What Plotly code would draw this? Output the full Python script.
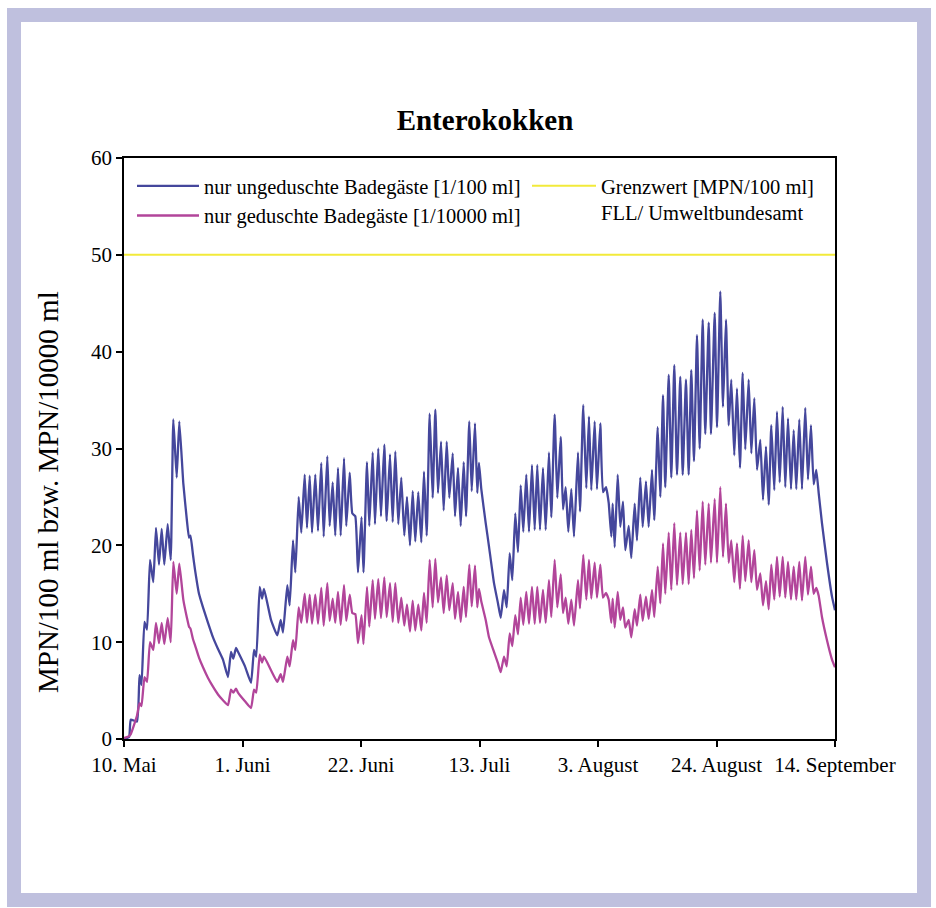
import plotly.graph_objects as go

# Day offset since 10. Mai (x), Enterokokken values
t = [0, 0.9, 1.2, 2.3, 2.75, 3.1, 3.63, 4.08, 4.61, 5.19, 5.67, 6.2, 6.68, 7.14, 7.74, 8.28, 8.74, 9.34, 9.8,
     10.51, 11.16, 11.52, 11.78, 12.23, 12.58, 13.29, 14.0, 14.89, 15.77, 16.66, 17.54, 18.43, 18.96, 19.37,
     19.85, 20.2, 21.44, 22.51, 23.04, 23.44, 24.05, 24.46, 24.81, 26.05, 27.17, 27.77, 28.18, 28.94, 29.36,
     29.95, 30.36, 30.96, 31.42, 32.02, 32.43, 32.91, 33.32, 33.9, 34.38, 34.96, 35.39, 36.03, 36.45, 36.98,
     37.44, 37.92, 38.4, 38.99, 39.39, 40.0, 40.46, 40.99, 41.47, 42.09, 42.44, 43.06, 43.47, 44.07, 44.48,
     45.06, 45.54, 46.13, 46.55, 47.14, 47.62, 48.08, 48.61, 49.14, 49.67, 50.15, 50.68, 51.16, 51.62, 52.15,
     52.69, 53.16, 53.64, 54.17, 54.7, 55.17, 55.64, 56.18, 56.65, 57.19, 57.65, 58.25, 58.66, 59.19, 59.67,
     60.2, 60.61, 61.19, 61.62, 62.2, 62.61, 62.91, 63.32, 64.1, 64.68, 65.57, 66.28, 66.76, 67.34, 67.82,
     68.35, 68.81, 69.34, 69.82, 70.3, 70.76, 71.29, 71.77, 72.3, 72.78, 73.24, 73.72, 74.25, 74.73, 75.31,
     75.72, 76.32, 76.79, 77.39, 77.8, 78.27, 78.74, 79.27, 79.75, 80.45, 80.81, 81.39, 81.93, 82.4, 82.81,
     83.41, 83.82, 84.41, 84.88, 85.42, 85.89, 86.36, 86.6, 86.96, 87.49, 87.95, 88.43, 88.84, 89.44, 89.9,
     90.5, 90.91, 91.49, 91.92, 92.5, 92.98, 93.57, 93.97, 94.58, 95.04, 95.52, 95.92, 96.53, 96.99, 97.52,
     98.0, 98.58, 99.01, 99.59, 100.07, 100.53, 101.01, 101.54, 102.02, 102.55, 103.01, 103.62, 104.02,
     104.68, 105.09, 105.67, 106.15, 106.68, 107.16, 107.62, 108.15, 108.63, 109.16, 109.64, 110.1, 110.7,
     111.17, 111.7, 112.18, 112.76, 113.24, 113.77, 114.25, 114.71, 115.24, 115.72, 116.2, 116.73, 117.19,
     117.67, 118.2, 118.68, 119.14, 119.67, 120.15, 120.73, 121.21, 121.74, 122.22, 122.68, 123.11, 123.69,
     124.58, 125.47, 126.0]

ungeduscht = [0, 0.2, 2.0, 1.8, 6.6, 5.6, 12.1, 11.3, 18.5, 16.2, 21.8, 18, 21.7, 18, 22.2, 18.5, 33, 27, 32.8,
              26.4, 22.5, 20.8, 21, 19, 17.5, 15, 13.6, 12, 10.5, 9.3, 8.2, 6.4, 9, 8.3,
              9.4, 9.0, 7.5, 5.8, 9.2, 8.5, 15.7, 14.5, 15.5, 12.3, 10.7, 12.3, 11, 15.9, 13.8,
              20.5, 17.2, 25, 21.3, 27.3, 21.8, 27.2, 21.3, 27.3, 21.5, 28.5, 20.9, 29.2, 22, 26.5,
              21, 28, 21, 29, 22, 27.5, 23.3, 23, 17.2, 22.9, 17.2, 28.6, 22, 29.6, 22.2,
              30, 23, 30.4, 22.5, 29.4, 22.4, 29.7, 22.2, 27, 21, 25, 20, 25.6, 20.4, 25.5,
              20.3, 27.6, 21, 33.6, 24.9, 34, 25.4, 30.7, 23.6, 30.7, 24.9, 29.5, 23, 28, 22,
              28.6, 23, 32.8, 25.6, 32.6, 25.4, 28.5, 25.8, 22.3, 19.9, 16.1, 14, 12.5, 15.4, 13.6,
              19.2, 16.4, 23.3, 19.3, 26.2, 21.4, 27.3, 21.4, 28.3, 21.6, 28.3, 21.6, 28, 21.6, 29.6,
              22.9, 33.5, 24.9, 31.2, 23.7, 26, 21.4, 25.8, 20.9, 29.6, 23.5, 34.5, 25.9, 33.3, 25.7,
              32.8, 25.8, 32.6, 25.5, 26, 24.4, 20.9, 24.3, 19.8, 27.3, 21.9, 24.5, 19.5, 22, 18.7,
              24.3, 20.5, 27, 21.9, 26.6, 21.9, 27.8, 22.6, 32.2, 25, 35.5, 26, 37.6, 27, 38.6,
              27.3, 37.4, 27.3, 37.1, 27.3, 38.1, 28.7, 41.7, 30, 43.3, 31.5, 43, 31.5,
              44, 32.2, 46.2, 34.3, 43.3, 32.4, 37.1, 29.3, 36.2, 28, 37.8, 29.9, 37.1,
              29.5, 35.2, 27.8, 30.9, 24.7, 30.2, 24.2, 32.4, 25.7, 33.8, 26.5, 34.3, 26,
              33.1, 25.8, 31.9, 25.8, 33, 25.8, 34.2, 26.8, 32.4, 26.3, 27.8, 25.4, 22.3,
              18.2, 14.7, 13.3]

geduscht = [0.1, 0.3, 0.5, 2.4, 3.7, 3.4, 6.4, 5.9, 10, 9.2, 12, 9.9, 12, 9.8, 12.5, 10, 18.3, 15, 18.1,
            14.4, 12.5, 11.6, 11.4, 10.3, 9.7, 8.4, 7.4, 6.3, 5.4, 4.6, 4.0, 3.5, 5.1, 4.8,
            5.2, 4.8, 3.9, 3.2, 5.1, 4.8, 8.7, 7.9, 8.5, 7.1, 5.9, 6.7, 5.9, 8.5, 7.5,
            10.2, 9.2, 13.6, 12, 15, 12, 14.9, 11.9, 14.9, 11.9, 15.6, 11.7, 16.1, 12.2, 14.5,
            12, 15.2, 11.8, 15.9, 12.2, 14.9, 13, 12.9, 9.9, 12.8, 9.8, 15.7, 11.6, 16.4, 12.4,
            16.5, 12.5, 16.7, 12.6, 16.1, 12.1, 16.1, 12, 14.6, 11.7, 13.9, 11.1, 14.3, 11.2, 13.9,
            11.2, 15.1, 12, 18.5, 13.6, 18.6, 14.1, 16.7, 13, 16.9, 13.3, 16.1, 12.4, 15.2, 12.1,
            15.7, 12.6, 18, 13.7, 17.9, 13.6, 15.5, 14.2, 12.3, 10.5, 9, 7.8, 6.9, 8.5, 7.5,
            10.9, 9.6, 12.8, 10.8, 14.6, 11.8, 15.2, 11.9, 15.7, 11.9, 15.7, 12, 15.4, 12, 16.4,
            12.6, 18.5, 13.6, 17, 13, 14.6, 11.9, 14.4, 11.7, 16.4, 13.5, 19, 14.4, 18.5, 14.5,
            18.2, 14.6, 18, 14.6, 15.1, 14.4, 12, 14.5, 11.5, 15.2, 12.3, 13.6, 11.5, 12.3, 10.5,
            13.4, 11.7, 14.9, 12.2, 14.7, 12.4, 15.4, 12.6, 17.8, 14, 20.2, 15, 21.3, 15.4, 22.3,
            15.9, 21.3, 16, 21.3, 16, 21.6, 16.6, 23.6, 17.4, 24.5, 18, 24.3, 18.2,
            24.8, 18.2, 26, 18.8, 24.3, 18.2, 20.5, 16.2, 20.2, 15.5, 21, 16.3, 20.5,
            16.2, 19.5, 15.4, 17.1, 13.8, 16.3, 13.4, 18, 14.4, 18.8, 14.7, 18.8, 14.6,
            18.3, 14.4, 17.8, 14.4, 18.3, 14.3, 18.8, 14.9, 17.8, 15, 15.6, 14.8, 12.6,
            10.2, 8.2, 7.4]

grenz_x = [0, 126]
grenzwert = [50, 50]

tick_days = [0, 21, 42, 63, 84, 105, 126]
tick_labels = ["10. Mai", "1. Juni", "22. Juni", "13. Juli", "3. August", "24. August", "14. September"]

SERIF = "Liberation Serif, Times New Roman, serif"
BLUE = "#45479c"
MAGENTA = "#b2459a"
YELLOW = "#f2ea3a"
LAVENDER = "#bfc0de"

fig = go.Figure()
fig.add_trace(go.Scatter(x=t, y=ungeduscht, mode="lines", name="nur ungeduschte Badegäste [1/100 ml]",
                         line=dict(color=BLUE, width=2.3, shape="spline", smoothing=0.4), legend="legend"))
fig.add_trace(go.Scatter(x=t, y=geduscht, mode="lines", name="nur geduschte Badegäste [1/10000 ml]",
                         line=dict(color=MAGENTA, width=2.3, shape="spline", smoothing=0.4), legend="legend"))
fig.add_trace(go.Scatter(x=grenz_x, y=grenzwert, mode="lines",
                         name="Grenzwert [MPN/100 ml]<br>FLL/ Umweltbundesamt",
                         line=dict(color=YELLOW, width=2), legend="legend2"))

L, R, T, B = 124, 101, 158, 169
W, H = 936, 908
pw, ph = W - L - R, H - T - B

def fx(px):
    return (px - L) / pw

def fy(py):
    return (H - B - py) / ph

fig.add_shape(type="rect", xref="paper", yref="paper",
              x0=fx(14), x1=fx(924), y0=fy(900), y1=fy(15),
              line=dict(color=LAVENDER, width=14), fillcolor="rgba(0,0,0,0)", layer="below")

# y-axis title placed as a rotated annotation
fig.add_annotation(text="MPN/100 ml bzw. MPN/10000 ml", xref="paper", yref="paper",
                   x=fx(48), y=fy(492), xanchor="center", yanchor="middle", textangle=-90,
                   showarrow=False, font=dict(size=29, family=SERIF, color="black"))

fig.update_layout(
    width=W, height=H,
    margin=dict(l=L, r=R, t=T, b=B),
    paper_bgcolor="white", plot_bgcolor="white",
    font=dict(family=SERIF, size=20, color="black"),
    title=dict(text="<b>Enterokokken</b>", x=fx(485), xref="paper", xanchor="center",
               y=1 - 120 / H, yanchor="middle", font=dict(size=29, family=SERIF, color="black")),
    showlegend=True,
    legend=dict(x=fx(132), y=fy(166), xanchor="left", yanchor="top", bgcolor="rgba(0,0,0,0)",
                itemwidth=62, font=dict(size=20.5, family=SERIF), tracegroupgap=0),
    legend2=dict(x=fx(527), y=fy(166), xanchor="left", yanchor="top", bgcolor="rgba(0,0,0,0)",
                 itemwidth=64, valign="top", font=dict(size=20.5, family=SERIF)),
    xaxis=dict(range=[0, 126], tickmode="array", tickvals=tick_days, ticktext=tick_labels,
               tickangle=0,
               showgrid=False, zeroline=False, showline=True, linecolor="black", linewidth=1.5,
               mirror=True, ticks="outside", ticklen=6, tickcolor="black", tickwidth=1.5,
               tickfont=dict(size=21, family=SERIF)),
    yaxis=dict(range=[0, 60], tickmode="array", tickvals=[0, 10, 20, 30, 40, 50, 60],
               showgrid=False, zeroline=False, showline=True, linecolor="black", linewidth=1.5,
               mirror=True, ticks="outside", ticklen=6, tickcolor="black", tickwidth=1.5,
               tickfont=dict(size=21, family=SERIF)),
)

fig.write_html("out.html")
